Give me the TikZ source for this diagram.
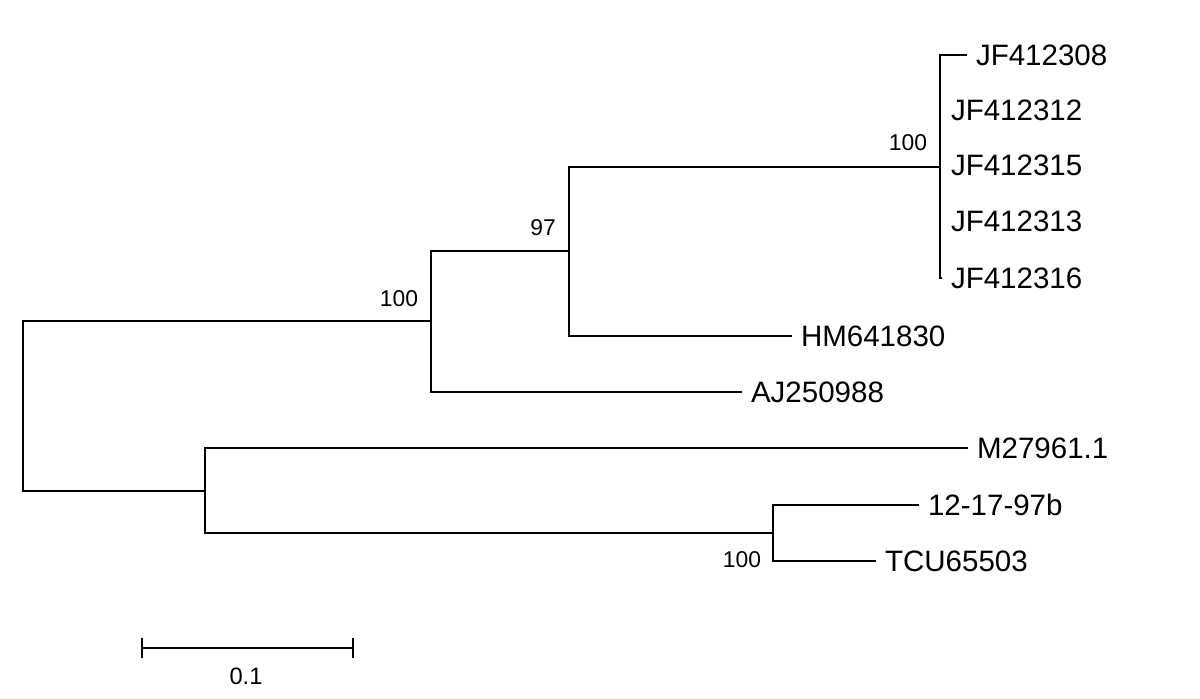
\documentclass[tikz,border=0pt]{standalone}
\usepackage{fontspec}
\setmainfont{Liberation Sans}
\usepackage{tikz}
\usetikzlibrary{positioning, calc}
\tikzstyle{branch} = [line width=1.4pt, line cap=rect]
\tikzstyle{leaf} = [anchor=west, inner sep=5.5pt, font=\fontsize{16.8}{20}\selectfont]
\tikzstyle{boot} = [inner sep=0pt, font=\fontsize{13}{15}\selectfont]

\begin{document}
\begin{tikzpicture}[x=0.02cm, y=-0.02cm]
    \useasboundingbox (0,0) rectangle (1200,699);

    % Internal nodes
    \coordinate (root) at (23, 406);
    \coordinate (A) at (431, 321);
    \coordinate (B) at (569, 251);
    \coordinate (C) at (940, 167);
    \coordinate (D) at (205, 491);
    \coordinate (E) at (773, 533);

    % Leaves
    \node[leaf] (jf08) at (966, 55) {JF412308};
    \node[leaf] (jf12) at (941, 110) {JF412312};
    \node[leaf] (jf15) at (941, 165) {JF412315};
    \node[leaf] (jf13) at (941, 221) {JF412313};
    \node[leaf] (jf16) at (941, 278) {JF412316};
    \node[leaf] (hm) at (791, 336) {HM641830};
    \node[leaf] (aj) at (741, 392) {AJ250988};
    \node[leaf] (m27) at (967, 448) {M27961.1};
    \node[leaf] (n1297) at (918, 505) {12-17-97b};
    \node[leaf] (tcu) at (875, 561) {TCU65503};

    % Branches
    \draw[branch] (root) |- (A);
    \draw[branch] (root) |- (D);
    \draw[branch] (A) |- (B);
    \draw[branch] (A) |- (aj.west);
    \draw[branch] (B) |- (C);
    \draw[branch] (B) |- (hm.west);
    \draw[branch] (C) |- (jf08.west);
    \draw[branch] (C) |- (jf16.west);
    \draw[branch] (D) |- (m27.west);
    \draw[branch] (D) |- (E);
    \draw[branch] (E) |- (n1297.west);
    \draw[branch] (E) |- (tcu.west);

    % Bootstrap values
    \node[boot] (bA) at (399, 299) {100};
    \node[boot] (bB) at (543, 228) {97};
    \node[boot] (bC) at (908, 143) {100};
    \node[boot] (bE) at (742, 560) {100};

    % Scale bar
    \coordinate (s1) at (142, 648);
    \coordinate (s2) at (353, 648);
    \draw[branch, line cap=butt] (s1) -- (s2);
    \draw[branch, line cap=butt] (s1) ++(0,-10) -- ++(0,20);
    \draw[branch, line cap=butt] (s2) ++(0,-10) -- ++(0,20);
    \node[boot, font=\fontsize{13.5}{15}\selectfont] (sl) at (246, 676) {0.1};
\end{tikzpicture}
\end{document}
